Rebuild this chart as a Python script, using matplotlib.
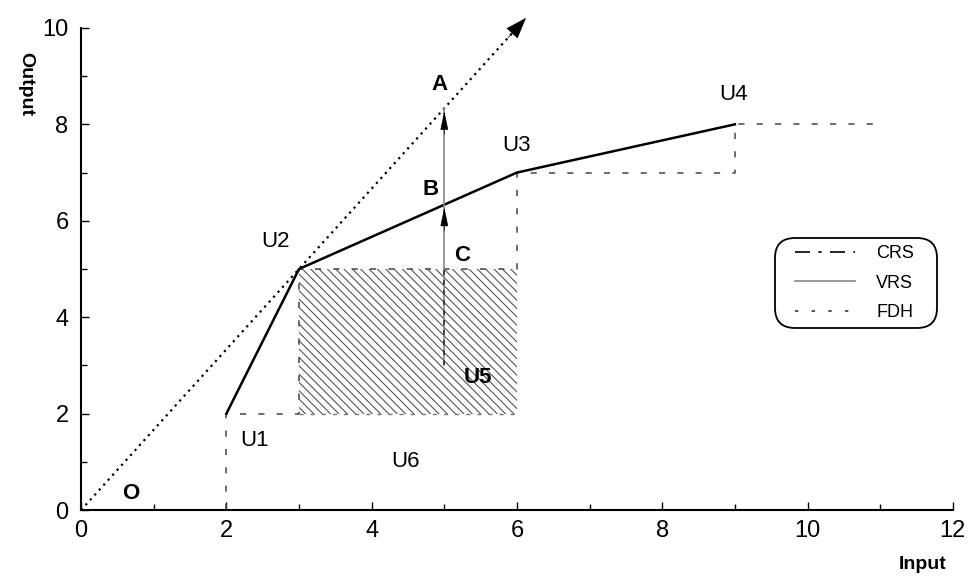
import numpy as np
import matplotlib.pyplot as plt
from matplotlib.patches import Rectangle, FancyBboxPatch
from matplotlib.lines import Line2D
from matplotlib.transforms import IdentityTransform

plt.rcParams["font.family"] = ["Liberation Sans", "DejaVu Sans"]
plt.rcParams["hatch.linewidth"] = 0.8

# DMU points (input, output)
names = ["U1", "U2", "U3", "U4", "U5", "U6"]
inputs = [2, 3, 6, 9, 5, 4.5]
outputs = [2, 5, 7, 8, 3, 1]

# VRS frontier through efficient units
vrs_x = [2, 3, 6, 9]
vrs_y = [2, 5, 7, 8]

# FDH staircase
fdh_x = [2, 2, 3, 3, 6, 6, 9, 9, 11]
fdh_y = [0, 2, 2, 5, 5, 7, 7, 8, 8]

# CRS ray from origin through U2
crs_slope = 5 / 3
crs_end = 6.15

# projections of U5
proj_x = 5
b_y = 5 + (proj_x - 3) * (7 - 5) / (6 - 3)
a_y = crs_slope * proj_x

fig = plt.figure(figsize=(9.73, 5.81), dpi=100)
ax = fig.add_axes([0.0833, 0.122, 0.896, 0.83])

# area dominated by U2
ax.add_patch(Rectangle((3, 2), 3, 3, facecolor="white", edgecolor="#555555",
                       hatch="\\\\\\\\", linewidth=0, zorder=1))

ax.plot(fdh_x, fdh_y, color="#444444", linestyle=(0, (4, 8)), linewidth=1.1, zorder=2)
ax.plot([3, 6], [2, 2], color="#777777", linestyle=(0, (3, 5)), linewidth=1, zorder=2)
ax.plot(vrs_x, vrs_y, color="black", linewidth=1.8, zorder=3)

# CRS ray with arrow head
ray_x = np.array([0, crs_end - 0.15])
ax.plot(ray_x, crs_slope * ray_x, color="black", linestyle=(0, (1, 2)), lw=1.6,
        clip_on=False, zorder=3)
ax.annotate("", xy=(crs_end, crs_slope * crs_end), xytext=(crs_end - 0.3, crs_slope * (crs_end - 0.3)),
            arrowprops=dict(arrowstyle="-|>,head_length=1.4,head_width=0.5",
                            color="black", lw=0.5),
            annotation_clip=False, zorder=4)

# vertical projection arrows
ax.plot([proj_x, proj_x], [3, a_y], color="#888888", linewidth=1.2, zorder=3)
ax.plot([proj_x, proj_x], [3, 5], color="#333333", linestyle=(0, (3, 3)), linewidth=1.2, zorder=3)
for y1 in [b_y, a_y]:
    ax.annotate("", xy=(proj_x, y1), xytext=(proj_x, y1 - 0.6),
                arrowprops=dict(arrowstyle="-|>,head_length=1.2,head_width=0.25",
                                color="black", lw=0.5), zorder=4)

# labels
lbl_pos = {"U1": (2.39, 1.45), "U2": (2.68, 5.56), "U3": (6.0, 7.57),
           "U4": (8.98, 8.61), "U5": (5.46, 2.74), "U6": (4.46, 1.0)}
for n in names:
    bold = "bold" if n == "U5" else "normal"
    ax.text(*lbl_pos[n], n, fontsize=16, ha="center", va="center", fontweight=bold)
ax.text(4.94, 8.82, "A", fontsize=16, fontweight="bold", ha="center", va="center")
ax.text(4.81, 6.64, "B", fontsize=16, fontweight="bold", ha="center", va="center")
ax.text(5.24, 5.27, "C", fontsize=16, fontweight="bold", ha="center", va="center")
ax.text(0.69, 0.35, "O", fontsize=16, fontweight="bold", ha="center", va="center")

ax.set_xlim(0, 12)
ax.set_ylim(0, 10)
ax.set_xticks(np.arange(0, 13, 2))
ax.set_yticks(np.arange(0, 11, 2))
ax.set_xticks(np.arange(1, 12, 2), minor=True)
ax.set_yticks(np.arange(1, 10, 2), minor=True)
ax.tick_params(which="both", direction="in", labelsize=17, width=1)
ax.tick_params(axis="y", pad=9)
ax.tick_params(axis="x", pad=7)
ax.tick_params(which="major", length=6)
ax.tick_params(which="minor", length=4)
for s in ["top", "right"]:
    ax.spines[s].set_visible(False)
for s in ["left", "bottom"]:
    ax.spines[s].set_linewidth(1.5)

fig.text(0.026, 0.855, "Output", rotation=-90, fontsize=14, fontweight="bold",
         ha="center", va="center")
fig.text(0.948, 0.028, "Input", fontsize=14, fontweight="bold", ha="center", va="center")

# legend with a hand-placed rounded frame
ax.add_patch(FancyBboxPatch((775, 253), 162, 90, boxstyle="round,pad=0,rounding_size=20",
                            transform=IdentityTransform(), facecolor="white",
                            edgecolor="black", linewidth=1.3, zorder=5, clip_on=False))
handles = [Line2D([], [], color="black", linestyle=(0, (9, 5, 2, 5)), lw=1.2),
           Line2D([], [], color="#888888", lw=1.2),
           Line2D([], [], color="#333333", linestyle=(0, (2, 8)), lw=1.2)]
leg = ax.legend(handles, ["CRS", "VRS", "FDH"], loc="upper left",
                bbox_to_anchor=(795 / 973, 1 - 245 / 581), bbox_transform=fig.transFigure,
                borderaxespad=0, borderpad=0, fontsize=13, frameon=False,
                handlelength=3.3, handletextpad=1.2, labelspacing=0.7)
leg.set_zorder(6)

fig.savefig("out.png", dpi=100)
